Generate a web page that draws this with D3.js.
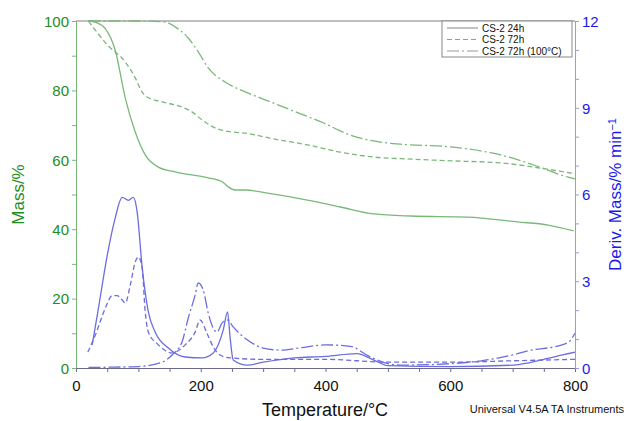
<!DOCTYPE html>
<html><head><meta charset="utf-8">
<script src="https://cdn.jsdelivr.net/npm/d3@7"></script>
<style>body{margin:0;background:#fff}svg{display:block}</style>
</head><body><svg id="c" width="627" height="421"></svg>
<script>
// ---- data ----
const seriesNames = ["CS-2 24h", "CS-2 72h", "CS-2 72h (100\u00B0C)"];
const xTicks = [0, 200, 400, 600, 800];
const massTicks = [0, 20, 40, 60, 80, 100];
const derivTicks = [0, 3, 6, 9, 12];

const massT24 = [20,32,47,63,79,95,111,132,159,212,235,244,255,271,307,371,424,477,537,628,708,757,798];
const mass24  = [100,99.6,97.8,91.5,77.8,68,61.4,57.9,56.5,54.8,53.6,52.2,51.3,51.3,50.4,48.4,46.4,44.4,43.8,43.5,42.1,41.2,39.5];
const massT72 = [20,51,79,95,106,114,138,170,186,202,223,251,271,317,371,424,477,537,601,681,745,793,800];
const mass72  = [100,93,88.2,83.6,79.5,78.1,76.7,75.2,73.8,71.5,69.2,68,67.7,66,64.3,62.2,60.8,60.2,59.7,59.1,57.6,56.2,56];
const massT100 = [20,100,143,159,180,196,212,239,263,296,344,397,440,488,520,601,681,734,789,800];
const mass100  = [100,100,99.7,98.3,95.1,91.1,86.5,82.4,80.2,77.8,74.4,70.6,67.1,65.1,64.5,63.7,61.4,58.5,55,54.5];

const derT24 = [26,35,51,63,74,84,92,98,106,116,127,148,175,202,220,236,243,247,252,275,300,350,400,450,480,500,600,700,750,780,800];
const der24  = [0.8,1.94,4.0,5.2,5.9,5.8,5.9,5.4,3.5,1.94,1.24,0.69,0.38,0.35,0.52,1.31,1.94,1.07,0.28,0.1,0.2,0.35,0.4,0.5,0.25,0.08,0.05,0.1,0.3,0.45,0.55];
const derT72 = [19,31,47,58,66,74,79,87,95,100,106,111,116,132,154,175,191,199,210,220,231,247,300,400,500,600,700,800];
const der72  = [0.55,1.14,2.07,2.5,2.5,2.35,2.25,2.87,3.67,3.84,3.46,1.94,1.24,0.8,0.52,0.8,1.24,1.66,1.2,0.73,0.45,0.35,0.3,0.3,0.2,0.2,0.25,0.3];
const derT100 = [20,60,100,138,154,170,180,191,196,204,212,220,226,234,243,252,275,300,328,360,400,440,470,500,520,600,650,700,730,770,790,800];
const der100  = [0.02,0.03,0.05,0.2,0.45,0.9,1.73,2.52,2.94,2.7,1.9,1.38,1.24,1.55,1.66,1.42,0.97,0.69,0.62,0.7,0.8,0.75,0.4,0.15,0.1,0.15,0.25,0.45,0.62,0.75,0.9,1.2];

// ---- styles ----
const dashes = [null, "5,3", "12,3,2,3"];
const greenLine = "#7ab87a", blueLine = "#6c6ce0";
const greenText = "#1e8c1e", blueText = "#1a1aee";

const svg = d3.select("#c");
const L = 76, R = 575, T = 21, B = 368;
const x = d3.scaleLinear().domain([0, 800]).range([L, R]);
const yM = d3.scaleLinear().domain([0, 100]).range([B, T]);
const yD = d3.scaleLinear().domain([0, 12]).range([B, T]);

// frame top
svg.append("line").attr("x1", L).attr("x2", R).attr("y1", T).attr("y2", T)
  .attr("stroke", "#a8a8a8").attr("stroke-width", 1.5);

// axes
const font = "Liberation Sans, Arial, sans-serif";
function styleAxis(g, col, txtCol) {
  g.selectAll("path").attr("stroke", col);
  g.selectAll("line").attr("stroke", col);
  g.selectAll("text").attr("fill", txtCol).style("font-family", font).style("font-size", "15px");
}
const xAx = svg.append("g").attr("transform", `translate(0,${B})`)
  .call(d3.axisBottom(x).tickValues(d3.range(0, 801, 50)).tickSize(4).tickSizeOuter(0)
    .tickFormat(d => xTicks.includes(d) ? d : ""));
styleAxis(xAx, "#6a6a8a", "#111");
xAx.selectAll("text").attr("dy", "1.05em");

const yAx = svg.append("g").attr("transform", `translate(${L},0)`)
  .call(d3.axisLeft(yM).tickValues(d3.range(0, 101, 10)).tickSize(4).tickSizeOuter(0)
    .tickFormat(d => massTicks.includes(d) ? d : ""));
styleAxis(yAx, "#7ab87a", greenText);
yAx.selectAll("text").attr("dy", "0.35em");

const dAx = svg.append("g").attr("transform", `translate(${R},0)`)
  .call(d3.axisRight(yD).tickValues(d3.range(0, 13, 1)).tickSize(4).tickSizeOuter(0)
    .tickFormat(d => derivTicks.includes(d) ? d : ""));
styleAxis(dAx, "#9a9ad8", blueText);
dAx.selectAll("text").attr("dy", "0.35em");

// lines
const massSeries = [[massT24, mass24], [massT72, mass72], [massT100, mass100]];
const derSeries = [[derT24, der24], [derT72, der72], [derT100, der100]];
const lm = d3.line().x(d => x(d[0])).y(d => yM(d[1])).curve(d3.curveMonotoneX);
const ld = d3.line().x(d => x(d[0])).y(d => yD(d[1])).curve(d3.curveMonotoneX);
derSeries.forEach((s, i) => {
  svg.append("path").datum(s[0].map((t, k) => [t, s[1][k]])).attr("d", ld)
    .attr("fill", "none").attr("stroke", blueLine).attr("stroke-width", 1.3)
    .attr("stroke-dasharray", dashes[i]);
});
massSeries.forEach((s, i) => {
  svg.append("path").datum(s[0].map((t, k) => [t, s[1][k]])).attr("d", lm)
    .attr("fill", "none").attr("stroke", greenLine).attr("stroke-width", 1.3)
    .attr("stroke-dasharray", dashes[i]);
});

// legend
const lg = svg.append("g");
lg.append("rect").attr("x", 442).attr("y", 21).attr("width", 130).attr("height", 36)
  .attr("fill", "#fff").attr("stroke", "#888").attr("stroke-width", 1);
seriesNames.forEach((n, i) => {
  const yy = 28 + i * 11.5;
  lg.append("line").attr("x1", 447).attr("x2", 478).attr("y1", yy).attr("y2", yy)
    .attr("stroke", "#999").attr("stroke-width", 1.2).attr("stroke-dasharray", dashes[i]);
  lg.append("text").attr("x", 482).attr("y", yy).attr("dy", "0.35em")
    .style("font-family", font).style("font-size", "10px").attr("fill", "#111").text(n);
});

// titles
svg.append("text").attr("transform", `translate(24,${(T + B) / 2}) rotate(-90)`)
  .attr("text-anchor", "middle").style("font-family", font).style("font-size", "17px")
  .attr("fill", greenText).text("Mass/%");
const rt = svg.append("text").attr("transform", `translate(621,${(T + B) / 2}) rotate(-90)`)
  .attr("text-anchor", "middle").style("font-family", font).style("font-size", "17px")
  .attr("fill", blueText);
rt.append("tspan").text("Deriv. Mass/% min");
rt.append("tspan").attr("dy", "-0.45em").style("font-size", "11px").text("\u22121");
svg.append("text").attr("x", 325).attr("y", 416).attr("text-anchor", "middle")
  .style("font-family", font).style("font-size", "18px").attr("fill", "#111").text("Temperature/\u00B0C");
svg.append("text").attr("x", 624).attr("y", 413).attr("text-anchor", "end")
  .style("font-family", font).style("font-size", "11px").attr("fill", "#111").text("Universal V4.5A TA Instruments");
</script></body></html>
